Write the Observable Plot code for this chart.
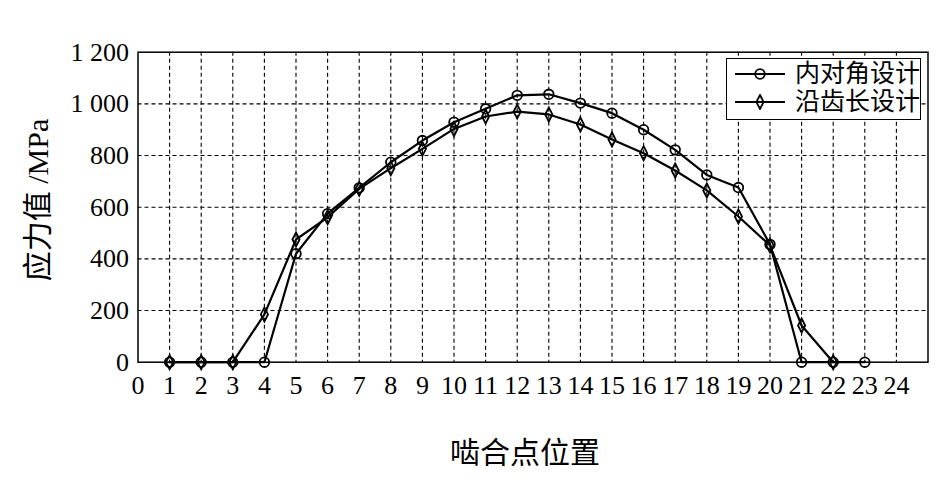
<!DOCTYPE html>
<html>
<head>
<meta charset="utf-8">
<script src="https://cdn.jsdelivr.net/npm/d3@7"></script>
<script src="https://cdn.jsdelivr.net/npm/@observablehq/plot@0.6"></script>
<style>
  body { margin: 0; background: #fff; }
  #wrap { position: relative; width: 947px; height: 483px; }
  #chart svg, #chart svg text { font-family: 'Liberation Serif', 'Times New Roman', 'Noto Sans CJK SC', serif !important; }
  #legend {
    position: absolute; left: 726px; top: 58px; width: 193px; height: 60px;
    border: 1.3px solid #000; background: #fff;
    font-family: 'Liberation Serif', 'Noto Sans CJK SC', serif; font-size: 25px;
  }
  .row { position: absolute; left: 0; height: 28px; display: flex; align-items: center; white-space: nowrap; }
  .row svg { margin-left: 8px; }
  .row span { margin-left: 10px; line-height: 28px; }
  .title { position: absolute; font-family: 'Liberation Serif', 'Noto Sans CJK SC', serif; font-size: 30px; white-space: nowrap; color: #000; line-height: 1; }
  #xtitle { left: 525px; top: 453px; transform: translate(-50%, -50%); }
  #ytitle { left: 38px; top: 200px; transform: translate(-50%, -50%) rotate(-90deg); }
</style>
</head>
<body>
<div id="wrap"><div id="chart"></div><div id="legend"></div><div id="xtitle" class="title"></div><div id="ytitle" class="title"></div></div>
<script>
const seriesNames = ["内对角设计", "沿齿长设计"];
const innerX = d3.range(1, 24);
const innerY = [0, 0, 0, 0, 420, 575, 675, 774, 858, 929, 981, 1033, 1037, 1003, 964, 900, 822, 725, 676, 456, 0, 0, 0];
const alongX = d3.range(1, 23);
const alongY = [0, 0, 0, 185, 475, 561, 671, 751, 826, 903, 951, 970, 959, 920, 862, 809, 742, 665, 564, 452, 142, 0];
const xTicks = d3.range(0, 25);
const yTicks = [0, 200, 400, 600, 800, 1000, 1200];
const xTitle = "啮合点位置";
const yTitle = "应力值 /MPa";

const inner = innerX.map((x, i) => ({x, y: innerY[i]}));
const along = alongX.map((x, i) => ({x, y: alongY[i]}));

const tallDiamond = {
  draw(ctx) {
    const h = 7, w = 3.6;
    ctx.moveTo(0, -h); ctx.lineTo(w, 0); ctx.lineTo(0, h); ctx.lineTo(-w, 0); ctx.closePath();
  }
};

const fmtY = d => d >= 1000 ? String(Math.floor(d / 1000)) + " " + String(d % 1000).padStart(3, "0") : String(d);

const chart = Plot.plot({
  width: 947,
  height: 483,
  marginLeft: 137.5,
  marginRight: 19.5,
  marginTop: 51.7,
  marginBottom: 121.3,
  style: {fontSize: "24px", color: "#000", background: "#fff"},
  x: {domain: [0, 25]},
  y: {domain: [0, 1200]},
  marks: [
    Plot.gridX(xTicks.slice(1), {stroke: "#000", strokeOpacity: 1, strokeWidth: 1.1, strokeDasharray: "4,3"}),
    Plot.gridY(yTicks.slice(1, -1), {stroke: "#000", strokeOpacity: 1, strokeWidth: 1.1, strokeDasharray: "4,3"}),
    Plot.frame({stroke: "#000", strokeWidth: 1.5}),
    Plot.axisX({ticks: xTicks, tickSize: 0, tickPadding: 13, label: null, fontSize: 26}),
    Plot.axisY({ticks: yTicks, tickSize: 0, tickPadding: 9, label: null, tickFormat: fmtY, fontSize: 26}),
    Plot.line(along, {x: "x", y: "y", stroke: "#000", strokeWidth: 2.2}),
    Plot.line(inner, {x: "x", y: "y", stroke: "#000", strokeWidth: 2.2}),
    Plot.dot(along, {x: "x", y: "y", symbol: tallDiamond, stroke: "#000", strokeWidth: 1.8, fill: "none"}),
    Plot.dot(inner, {x: "x", y: "y", r: 4.8, stroke: "#000", strokeWidth: 1.8, fill: "none"})
  ]
});
document.getElementById("chart").appendChild(chart);
document.getElementById("xtitle").textContent = xTitle;
document.getElementById("ytitle").textContent = yTitle;

// Legend
const legend = document.getElementById("legend");
seriesNames.forEach((name, i) => {
  const row = document.createElement("div");
  row.className = "row";
  row.style.top = (i === 0 ? 1 : 29) + "px";
  const marker = i === 0
    ? '<circle cx="25" cy="8" r="4.8" fill="none" stroke="#000" stroke-width="1.8"/>'
    : '<path d="M25,1L28.6,8L25,15L21.4,8Z" fill="none" stroke="#000" stroke-width="1.8"/>';
  row.innerHTML = '<svg width="50" height="16"><line x1="0" y1="8" x2="50" y2="8" stroke="#000" stroke-width="2.2"/>' + marker + '</svg><span>' + name + '</span>';
  legend.appendChild(row);
});
</script>
</body>
</html>
